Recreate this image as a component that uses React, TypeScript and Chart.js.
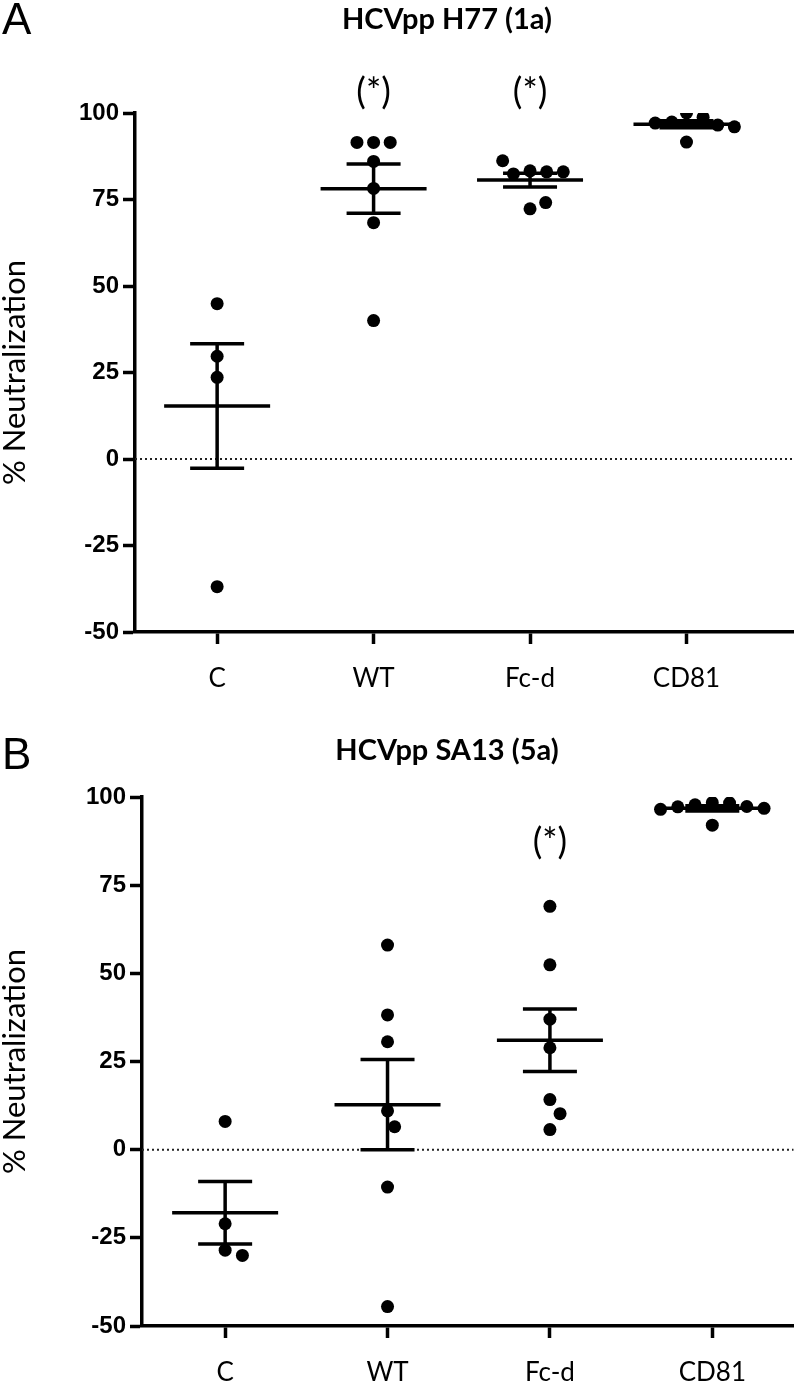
import React, { useEffect, useRef } from "react";
import { Chart, registerables } from "chart.js";

Chart.register(...registerables);

// ---------- data ----------
const CATEGORIES = ["C", "WT", "Fc-d", "CD81"];
const Y_TICKS = [-50, -25, 0, 25, 50, 75, 100];
const Y_TITLE = "% Neutralization";

const TITLE_A = "HCVpp H77 (1a)";
const H77_C = [44.9, 29.7, 23.6, -36.9];
const H77_WT = [91.5, 91.5, 91.5, 86.0, 78.2, 68.3, 40.0];
const H77_FCD = [83.3, 83.0, 82.4, 83.0, 86.2, 72.3, 74.1];
const H77_CD81 = [100.0, 98.8, 97.4, 97.1, 96.5, 96.0, 91.6];
const SIG_A = ["", "(*)", "(*)", ""];

const TITLE_B = "HCVpp SA13 (5a)";
const SA13_C = [8.0, -21.0, -28.5, -30.0];
const SA13_WT = [58.0, 38.2, 30.6, 11.0, 6.5, -10.6, -44.5];
const SA13_FCD = [69.0, 52.4, 37.0, 28.9, 14.2, 10.2, 5.7];
const SA13_CD81 = [98.4, 98.3, 97.8, 97.3, 97.2, 96.8, 96.5, 92.0];
const SIG_B = ["", "", "(*)", ""];

// ---------- layout ----------
type Panel = {
  letter: string;
  title: string;
  groups: number[][];
  sig: string[];
  top: number;
  height: number;
  padTop: number;
  xAxisH: number;
  yAxisW: number;
  xMin: number;
  xMax: number;
  titleY: number;
  letterY: number;
  sigY: number;
};

const PANELS: Panel[] = [
  {
    letter: "A",
    title: TITLE_A,
    groups: [H77_C, H77_WT, H77_FCD, H77_CD81],
    sig: SIG_A,
    top: 0,
    height: 700,
    padTop: 113,
    xAxisH: 68,
    yAxisW: 135,
    xMin: -0.525,
    xMax: 3.684,
    titleY: 20,
    letterY: 22,
    sigY: 92,
  },
  {
    letter: "B",
    title: TITLE_B,
    groups: [SA13_C, SA13_WT, SA13_FCD, SA13_CD81],
    sig: SIG_B,
    top: 700,
    height: 690,
    padTop: 97,
    xAxisH: 64,
    yAxisW: 142,
    xMin: -0.512,
    xMax: 3.5,
    titleY: 51,
    letterY: 57,
    sigY: 142,
  },
];

const PX_Y = 3.5; // approx pixels per y unit (for dot spreading)
const PX_X = 160; // approx pixels per category
const DOT_R = 6.5;
const MIN_DIST = 17;

function swarm(values: number[]): number[] {
  const placed: { x: number; y: number }[] = [];
  return values.map((v) => {
    const y = v * PX_Y;
    let best = 0;
    for (let k = 0; k < 400; k++) {
      const cand = k === 0 ? 0 : (k % 2 ? 1 : -1) * Math.ceil(k / 2);
      if (placed.every((p) => Math.hypot(p.x - cand, p.y - y) >= MIN_DIST)) {
        best = cand;
        break;
      }
    }
    placed.push({ x: best, y });
    return best / PX_X;
  });
}

function stats(vals: number[]) {
  const n = vals.length;
  const m = vals.reduce((a, b) => a + b, 0) / n;
  const sd = Math.sqrt(vals.reduce((a, b) => a + (b - m) * (b - m), 0) / (n - 1));
  return { m, sem: sd / Math.sqrt(n) };
}

const SANS = "Lato, 'Open Sans', sans-serif";
const NUM = "'Liberation Sans', Arial, sans-serif";

function buildChart(canvas: HTMLCanvasElement, p: Panel) {
  const datasets = p.groups.map((vals, gi) => {
    const offs = swarm(vals);
    return {
      data: vals.map((v, i) => ({ x: gi + offs[i], y: v })),
      backgroundColor: "#000",
      borderColor: "#000",
      pointRadius: DOT_R,
      pointHoverRadius: DOT_R,
      pointBorderWidth: 0,
    };
  });

  const overlay = {
    id: "overlay" + p.letter,
    beforeDatasetsDraw(chart: any) {
      const { ctx, chartArea, scales } = chart;
      const xs = scales.x;
      const ys = scales.y;
      ctx.save();
      // zero dotted line
      const y0 = ys.getPixelForValue(0);
      ctx.setLineDash([2, 3]);
      ctx.lineWidth = 2;
      ctx.strokeStyle = "#222";
      ctx.beginPath();
      ctx.moveTo(chartArea.left, y0);
      ctx.lineTo(chartArea.right, y0);
      ctx.stroke();
      ctx.setLineDash([]);
      // mean + SEM
      ctx.strokeStyle = "#000";
      ctx.lineWidth = 3.5;
      p.groups.forEach((vals, gi) => {
        const { m, sem } = stats(vals);
        const cx = xs.getPixelForValue(gi);
        const ym = ys.getPixelForValue(m);
        const yt = ys.getPixelForValue(m + sem);
        const yb = ys.getPixelForValue(m - sem);
        ctx.beginPath();
        ctx.moveTo(cx - 53, ym);
        ctx.lineTo(cx + 53, ym);
        ctx.moveTo(cx, yt);
        ctx.lineTo(cx, yb);
        ctx.moveTo(cx - 27, yt);
        ctx.lineTo(cx + 27, yt);
        ctx.moveTo(cx - 27, yb);
        ctx.lineTo(cx + 27, yb);
        ctx.stroke();
      });
      ctx.restore();
    },
    afterDraw(chart: any) {
      const { ctx, chartArea, scales } = chart;
      const xs = scales.x;
      ctx.save();
      ctx.fillStyle = "#000";
      // panel letter
      ctx.font = "44px 'Liberation Sans', Arial, sans-serif";
      ctx.textAlign = "left";
      ctx.textBaseline = "middle";
      ctx.fillText(p.letter, 2, p.letterY);
      // title
      ctx.font = "bold 29px " + SANS;
      ctx.textAlign = "center";
      ctx.fillText(p.title, 447, p.titleY);
      // significance labels
      ctx.font = "36px " + SANS;
      p.sig.forEach((s, i) => {
        if (s) ctx.fillText(s, xs.getPixelForValue(i), p.sigY);
      });
      // y title
      ctx.translate(15, (chartArea.top + chartArea.bottom) / 2);
      ctx.rotate(-Math.PI / 2);
      ctx.font = "31px " + SANS;
      ctx.fillText(Y_TITLE, 0, 0);
      ctx.restore();
    },
  };

  return new Chart(canvas, {
    type: "scatter",
    data: { datasets },
    plugins: [overlay],
    options: {
      responsive: false,
      animation: false,
      devicePixelRatio: 1,
      layout: { padding: { top: p.padTop, left: 0, right: 0, bottom: 0 } },
      plugins: { legend: { display: false }, tooltip: { enabled: false } },
      scales: {
        x: {
          type: "linear",
          min: p.xMin,
          max: p.xMax,
          afterBuildTicks: (scale: any) => {
            scale.ticks = CATEGORIES.map((_, i) => ({ value: i }));
          },
          afterFit: (scale: any) => {
            scale.height = p.xAxisH;
          },
          ticks: {
            autoSkip: false,
            maxRotation: 0,
            color: "#000",
            padding: 19,
            font: { family: SANS, size: 26 },
            callback: (v: any) => CATEGORIES[Math.round(Number(v))] ?? "",
          },
          grid: {
            drawOnChartArea: false,
            drawTicks: true,
            tickLength: 12,
            tickWidth: 3.5,
            tickColor: "#000",
          },
          border: { display: true, color: "#000", width: 3.5 },
        },
        y: {
          type: "linear",
          min: Y_TICKS[0],
          max: Y_TICKS[Y_TICKS.length - 1],
          afterBuildTicks: (scale: any) => {
            scale.ticks = Y_TICKS.map((v) => ({ value: v }));
          },
          afterFit: (scale: any) => {
            scale.width = p.yAxisW;
          },
          ticks: {
            color: "#000",
            padding: 4,
            font: { family: NUM, size: 24, weight: "bold" },
            callback: (v: any) => String(v),
          },
          grid: {
            drawOnChartArea: false,
            drawTicks: true,
            tickLength: 12,
            tickWidth: 3.5,
            tickColor: "#000",
          },
          border: { display: true, color: "#000", width: 3.5 },
        },
      },
    },
  } as any);
}

function PanelChart({ panel }: { panel: Panel }) {
  const ref = useRef<HTMLCanvasElement | null>(null);
  useEffect(() => {
    if (!ref.current) return;
    const chart = buildChart(ref.current, panel);
    return () => chart.destroy();
  }, [panel]);
  return (
    <canvas
      ref={ref}
      width={800}
      height={panel.height}
      style={{
        position: "absolute",
        left: 0,
        top: panel.top,
        width: 800,
        height: panel.height,
        display: "block",
      }}
    />
  );
}

export default function App() {
  return (
    <div
      style={{
        position: "absolute",
        left: 0,
        top: 0,
        width: 800,
        height: 1390,
        background: "#fff",
        overflow: "hidden",
      }}
    >
      {PANELS.map((p) => (
        <PanelChart key={p.letter} panel={p} />
      ))}
    </div>
  );
}
